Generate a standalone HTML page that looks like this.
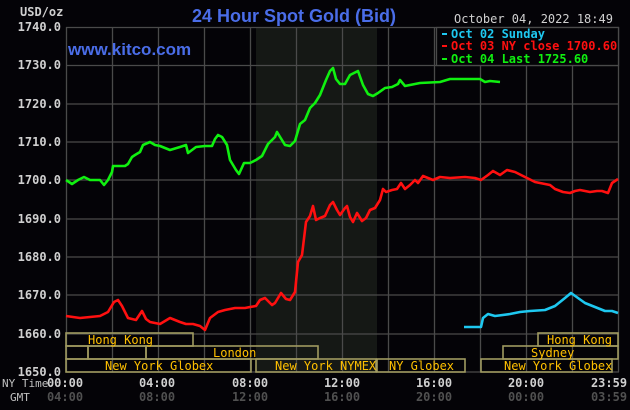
<!DOCTYPE html>
<html><head><meta charset="utf-8"><style>
body{margin:0;background:#040307;}
svg{display:block}
.m{font-family:"DejaVu Sans Mono","Liberation Mono",monospace;}
</style></head><body>
<svg width="630" height="410" xmlns="http://www.w3.org/2000/svg">
<rect width="630" height="410" fill="#040307"/>
<rect x="256" y="27" width="121" height="345" fill="#151815"/>
<g stroke="#4a4a4a" stroke-width="1.3">
<line x1="66" y1="27.5" x2="619" y2="27.5"/><line x1="66" y1="65.5" x2="619" y2="65.5"/><line x1="66" y1="104" x2="619" y2="104"/><line x1="66" y1="142" x2="619" y2="142"/><line x1="66" y1="180" x2="619" y2="180"/><line x1="66" y1="219" x2="619" y2="219"/><line x1="66" y1="257" x2="619" y2="257"/><line x1="66" y1="295" x2="619" y2="295"/><line x1="66" y1="334" x2="619" y2="334"/><line x1="66" y1="372" x2="619" y2="372"/>
<line x1="66.5" y1="27" x2="66.5" y2="372"/><line x1="112.5" y1="27" x2="112.5" y2="372"/><line x1="158.5" y1="27" x2="158.5" y2="372"/><line x1="204.5" y1="27" x2="204.5" y2="372"/><line x1="250.5" y1="27" x2="250.5" y2="372"/><line x1="296.5" y1="27" x2="296.5" y2="372"/><line x1="342.5" y1="27" x2="342.5" y2="372"/><line x1="388.5" y1="27" x2="388.5" y2="372"/><line x1="434.5" y1="27" x2="434.5" y2="372"/><line x1="480.5" y1="27" x2="480.5" y2="372"/><line x1="526.5" y1="27" x2="526.5" y2="372"/><line x1="572.5" y1="27" x2="572.5" y2="372"/><line x1="618.5" y1="27" x2="618.5" y2="372"/>
</g>
<rect x="436.5" y="27.5" width="182" height="38" fill="#040307" stroke="#4a4a4a" stroke-width="1.3"/>
<g class="m" font-size="12" font-weight="bold">
<text x="451" y="38" fill="#1ec8f0">Oct 02 Sunday</text>
<text x="451" y="50" fill="#ff1010">Oct 03 NY close 1700.60</text>
<text x="451" y="63" fill="#10f010">Oct 04 Last 1725.60</text>
<rect x="442" y="33" width="5" height="2" fill="#1ec8f0"/><rect x="442" y="45" width="5" height="2" fill="#ff1010"/><rect x="442" y="58" width="5" height="2" fill="#10f010"/>
</g>
<g fill="none" stroke-width="2.6" stroke-linejoin="round">
<polyline stroke="#10f010" points="66,180 72,184 78,180 84,177 90,180 100,180 104,185 108,180 112,172 113,166 125,166 128,164 132,157 135,155 140,152 143,145 150,142 155,145 160,146 170,150 180,147 186,145 188,153 196,147 205,146 212,146 215,139 218,135 222,137 227,145 230,160 236,170 239,174 244,163 250,163 256,160 262,156 268,144 275,137 277,132 285,145 290,146 295,141 300,124 305,120 310,108 315,103 320,95 326,80 330,71 333,68 336,79 340,84 345,84 350,75 358,71 363,85 368,94 373,96 378,93 385,88 392,87 398,84 400,80 405,86 410,85 420,83 440,82 450,79 480,79 485,82 490,81 500,82"/>
<polyline stroke="#ff1010" points="66,316 80,318 90,317 100,316 108,312 114,302 118,300 122,306 128,318 136,320 142,311 146,319 150,322 160,324 170,318 180,322 186,324 193,324 200,326 205,330 210,318 218,312 225,310 235,308 245,308 250,307 256,306 260,300 265,298 272,305 275,303 281,293 286,299 290,300 295,292 298,262 302,255 306,222 310,216 313,206 316,220 320,218 325,216 330,205 333,202 337,210 340,215 345,208 347,206 350,217 353,222 357,213 362,221 366,218 370,210 375,208 380,200 383,189 386,192 392,190 397,189 401,183 405,189 410,185 415,180 418,183 423,176 428,178 433,180 440,177 450,178 465,177 475,178 481,180 488,175 493,171 500,175 507,170 515,172 525,177 535,182 550,185 555,189 563,192 570,193 575,191 580,190 590,192 597,191 602,191 608,193 612,183 618,179"/>
<polyline stroke="#1ec8f0" points="464,327 481,327 483,318 488,314 495,316 510,314 520,312 530,311 545,310 555,306 565,298 571,293 578,298 585,303 595,307 605,311 612,311 618,313"/>
</g>
<g stroke="#a09a60" stroke-width="1.6" fill="none">
<rect x="66" y="333" width="127" height="13"/>
<rect x="66" y="346" width="22" height="13"/><rect x="88" y="346" width="58" height="13"/><rect x="146" y="346" width="172" height="13"/>
<rect x="66" y="359" width="185" height="13"/><rect x="256" y="359" width="120" height="13"/><rect x="377" y="359" width="88" height="13"/><rect x="481" y="359" width="131" height="13"/>
<rect x="538" y="333" width="80" height="13"/><rect x="503" y="346" width="115" height="13"/>
</g>
<g class="m" font-size="12" fill="#ffc000">
<text x="88" y="344">Hong Kong</text><text x="213" y="357">London</text><text x="105" y="370">New York Globex</text>
<text x="275" y="370">New York NYMEX</text><text x="389" y="370">NY Globex</text><text x="504" y="370">New York Globex</text>
<text x="547" y="344">Hong Kong</text><text x="531" y="357">Sydney</text>
</g>
<g class="m" font-size="12" font-weight="bold" fill="#d0d0d0">
<text x="20" y="16">USD/oz</text>
<text x="61" y="31" text-anchor="end">1740.0</text><text x="61" y="69" text-anchor="end">1730.0</text><text x="61" y="108" text-anchor="end">1720.0</text><text x="61" y="146" text-anchor="end">1710.0</text><text x="61" y="184" text-anchor="end">1700.0</text><text x="61" y="223" text-anchor="end">1690.0</text><text x="61" y="261" text-anchor="end">1680.0</text><text x="61" y="299" text-anchor="end">1670.0</text><text x="61" y="338" text-anchor="end">1660.0</text><text x="61" y="376" text-anchor="end">1650.0</text>
<text x="65" y="387" text-anchor="middle">00:00</text><text x="157" y="387" text-anchor="middle">04:00</text><text x="250" y="387" text-anchor="middle">08:00</text><text x="342" y="387" text-anchor="middle">12:00</text><text x="434" y="387" text-anchor="middle">16:00</text><text x="526" y="387" text-anchor="middle">20:00</text><text x="609" y="387" text-anchor="middle">23:59</text>
<g fill="#505050"><text x="65" y="401" text-anchor="middle">04:00</text><text x="157" y="401" text-anchor="middle">08:00</text><text x="250" y="401" text-anchor="middle">12:00</text><text x="342" y="401" text-anchor="middle">16:00</text><text x="434" y="401" text-anchor="middle">20:00</text><text x="526" y="401" text-anchor="middle">00:00</text><text x="609" y="401" text-anchor="middle">03:59</text></g>
<text x="454" y="23" fill="#d0d0d0" font-weight="normal">October 04, 2022 18:49</text>
</g>
<g class="m" font-size="11" fill="#c0c0c0"><text x="2" y="387">NY Time</text><text x="10" y="401">GMT</text></g>
<g font-family="Liberation Sans, sans-serif" font-weight="bold" fill="#4a6de8">
<text x="294" y="22" font-size="18" text-anchor="middle">24 Hour Spot Gold (Bid)</text>
<text x="68" y="55" font-size="17">www.kitco.com</text>
</g>
</svg>
</body></html>
